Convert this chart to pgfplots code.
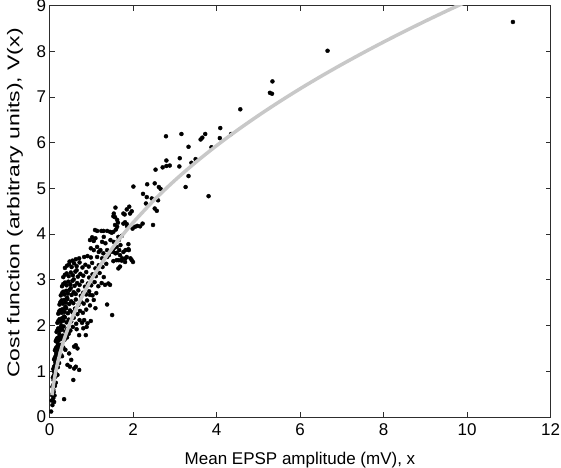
\documentclass[border=0pt]{standalone}
\usepackage{fontspec}
\setmainfont{Liberation Sans}
\usepackage{graphicx}
\usepackage{pgfplots}
\usepackage{pgfplotstable}
\pgfplotsset{compat=1.18}
\definecolor{curvegray}{RGB}{200,200,200}
\definecolor{axgray}{RGB}{45,45,45}
\pgfplotstableread{
x y
11.10 8.64
6.66 8.01
5.34 7.34
5.28 7.09
5.33 7.07
4.57 6.73
4.09 6.32
4.08 6.10
4.35 6.19
3.88 5.90
3.73 6.19
3.66 6.11
3.62 6.07
3.81 4.83
2.79 6.14
3.16 6.19
3.33 5.91
2.80 5.61
3.12 5.66
3.40 5.56
3.50 5.64
2.80 5.49
2.88 5.50
2.71 5.46
3.11 5.48
2.54 5.41
3.33 5.27
3.26 5.03
2.01 5.04
2.34 5.09
2.52 5.11
2.62 5.03
2.66 4.99
2.24 4.88
2.33 4.81
2.45 4.78
2.31 4.67
2.60 4.74
2.52 4.56
2.57 4.51
1.91 4.60
1.85 4.54
1.97 4.50
1.77 4.45
1.80 4.43
1.58 4.58
1.53 4.39
1.57 4.37
2.48 4.20
1.81 4.26
1.85 4.22
1.99 4.12
2.05 4.16
2.10 4.18
2.17 4.17
2.23 4.23
1.57 4.20
1.62 4.16
1.59 4.10
1.53 4.05
1.29 4.07
1.38 4.07
1.45 4.05
1.49 4.03
1.14 4.07
1.24 4.07
1.93 4.45
1.54 4.45
1.62 4.31
1.64 4.25
1.77 4.23
1.86 4.17
1.65 3.94
1.69 3.93
1.73 3.96
1.89 3.78
1.89 3.67
1.53 3.61
1.61 3.59
1.69 3.54
1.85 3.50
1.94 3.47
2.00 3.39
1.53 3.41
1.61 3.43
1.73 3.42
1.65 3.25
1.41 2.92
1.45 2.89
1.33 2.89
1.50 2.23
1.38 2.46
1.06 2.56
1.10 2.38
0.83 2.12
0.91 2.05
0.99 2.10
0.87 1.79
0.71 1.79
0.59 1.54
0.63 1.57
0.67 1.50
0.59 1.06
0.71 1.03
0.63 1.10
0.57 0.81
0.35 0.39
0.47 1.39
0.52 1.25
0.43 1.14
0.49 1.10
0.04 0.12
0.07 0.26
0.11 0.33
0.09 0.41
1.02 3.93
1.10 3.91
1.06 3.85
1.30 3.94
1.26 3.83
1.34 3.80
1.46 3.87
1.54 3.83
1.66 3.87
1.70 3.76
1.82 3.65
1.90 3.65
0.99 3.69
1.06 3.65
1.14 3.72
1.18 3.61
1.22 3.65
1.29 3.58
1.38 3.65
1.42 3.54
1.46 3.61
1.54 3.69
1.58 3.58
1.69 3.29
1.81 3.39
1.97 3.43
1.61 3.72
1.67 3.65
1.77 3.61
1.41 3.54
0.97 2.67
0.89 1.97
0.81 1.94
0.25 1.54
0.97 3.87
1.09 4.09
0.06 0.48
0.08 0.52
0.10 0.55
0.12 0.47
0.09 0.60
0.05 0.36
0.07 0.66
0.09 0.70
0.11 0.73
0.13 0.68
0.15 0.75
0.10 0.80
0.08 0.86
0.10 0.90
0.12 0.93
0.14 0.88
0.16 0.95
0.19 0.92
0.11 0.99
0.09 1.05
0.11 1.10
0.13 1.13
0.15 1.07
0.17 1.15
0.20 1.09
0.23 1.18
0.14 1.20
0.11 1.26
0.13 1.30
0.15 1.34
0.18 1.28
0.20 1.36
0.22 1.31
0.26 1.38
0.30 1.33
0.16 1.40
0.13 1.46
0.15 1.50
0.17 1.53
0.19 1.47
0.22 1.55
0.25 1.49
0.28 1.58
0.33 1.52
0.38 1.47
0.20 1.60
0.15 1.66
0.17 1.70
0.19 1.73
0.22 1.68
0.25 1.76
0.28 1.71
0.32 1.78
0.36 1.69
0.42 1.74
0.24 1.80
0.46 1.82
0.17 1.86
0.19 1.90
0.21 1.94
0.24 1.88
0.27 1.96
0.30 1.91
0.34 1.98
0.38 1.87
0.43 1.93
0.50 1.89
0.56 1.97
0.28 2.00
0.65 1.92
0.19 2.06
0.21 2.10
0.24 2.14
0.27 2.08
0.30 2.16
0.33 2.11
0.37 2.18
0.41 2.07
0.46 2.13
0.52 2.09
0.58 2.17
0.64 2.04
0.72 2.12
0.35 2.20
0.78 2.06
0.21 2.26
0.23 2.31
0.26 2.34
0.29 2.28
0.32 2.36
0.36 2.30
0.40 2.38
0.44 2.27
0.49 2.33
0.55 2.29
0.61 2.37
0.67 2.25
0.73 2.32
0.80 2.28
0.88 2.35
0.38 2.41
0.24 2.46
0.26 2.51
0.29 2.55
0.32 2.48
0.35 2.56
0.39 2.50
0.43 2.58
0.47 2.47
0.52 2.53
0.57 2.49
0.63 2.57
0.69 2.45
0.75 2.52
0.82 2.48
0.90 2.55
0.97 2.44
0.42 2.61
0.27 2.66
0.30 2.71
0.33 2.74
0.36 2.68
0.40 2.76
0.44 2.70
0.48 2.78
0.53 2.67
0.58 2.73
0.63 2.69
0.69 2.77
0.75 2.65
0.81 2.72
0.88 2.68
0.95 2.75
1.03 2.66
1.12 2.71
0.51 2.82
0.30 2.86
0.33 2.91
0.37 2.94
0.41 2.88
0.45 2.96
0.50 2.90
0.55 2.98
0.60 2.87
0.66 2.93
0.72 2.89
0.78 2.97
0.85 2.85
0.92 2.92
1.00 2.88
1.08 2.95
1.17 2.86
1.25 2.93
0.58 3.01
0.33 3.06
0.37 3.11
0.41 3.14
0.46 3.08
0.51 3.16
0.56 3.10
0.62 3.18
0.68 3.07
0.74 3.13
0.81 3.09
0.88 3.17
0.95 3.05
1.03 3.12
1.11 3.08
1.20 3.15
1.30 3.06
0.65 3.21
0.37 3.26
0.42 3.31
0.47 3.34
0.53 3.28
0.59 3.36
0.65 3.30
0.72 3.38
0.79 3.27
0.86 3.33
0.94 3.29
1.02 3.37
1.10 3.25
1.18 3.32
1.27 3.28
1.36 3.35
0.63 3.45
0.71 3.47
0.83 3.50
0.91 3.52
0.99 3.49
1.14 3.50
1.26 3.47
1.38 3.50
1.74 3.47
1.82 3.47
1.66 3.43
0.55 3.42
0.48 3.40
}\scatterdata
\begin{document}
\begin{tikzpicture}
\useasboundingbox (-49.5pt,-50pt) rectangle (511.5pt,417pt);
\begin{axis}[
  at={(0pt,0pt)}, anchor=south west,
  width=501pt, height=411.5pt, scale only axis,
  xmin=0, xmax=12, ymin=0, ymax=9,
  xtick={0,2,4,6,8,10,12}, ytick={0,1,2,3,4,5,6,7,8,9},
  tick align=inside, major tick length=5pt,
  axis line style={axgray, line width=0.8pt},
  every tick/.style={axgray, line width=0.8pt},
  clip marker paths=true,
  /pgf/number format/assume math mode=true,
  tick label style={font=\fontsize{17pt}{20pt}\selectfont},
  xticklabel style={yshift=-3pt},
  label style={font=\fontsize{17pt}{20pt}\selectfont},
  xlabel={Mean EPSP amplitude (mV), x},
  ylabel={\scalebox{1.35}[1]{Cost function (arbitrary units), V(x)}},
  xlabel style={at={(axis description cs:0.5,-0.104)}, anchor=center},
  ylabel style={at={(axis description cs:-0.0689,0.52)}, anchor=center},
]
\addplot[only marks, mark=*, mark size=2pt, draw=black, fill=black] table[x=x, y=y] {\scatterdata};
\addplot[curvegray, line width=3.5pt, smooth] coordinates {
(0.06,0.476) (0.1,0.740) (0.15,0.994) (0.2,1.204) (0.3,1.547) (0.4,1.830)
(0.5,2.074) (0.6,2.291) (0.8,2.672) (1.0,3.001) (1.25,3.363) (1.5,3.686)
(1.75,3.980) (2.0,4.250) (2.5,4.739) (3.0,5.174) (3.5,5.569) (4.0,5.934)
(4.5,6.273) (5.0,6.591) (5.5,6.892) (6.0,7.178) (6.5,7.450) (7.0,7.710)
(7.5,7.960) (8.0,8.201) (8.5,8.433) (9.0,8.658) (9.5,8.876) (9.75,8.982) (10.0,9.087)
};
\end{axis}
\end{tikzpicture}
\end{document}
